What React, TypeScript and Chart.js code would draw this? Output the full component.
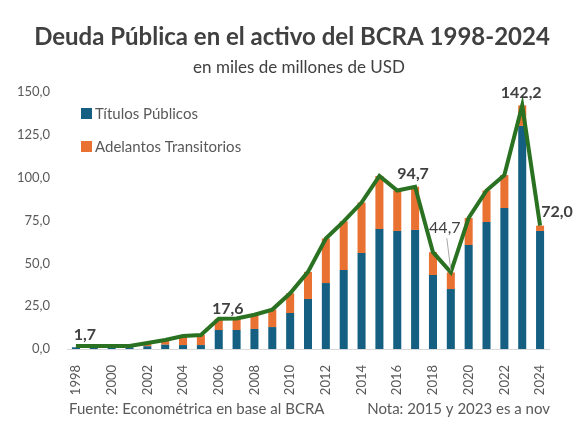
import { useEffect, useRef } from "react";
import { Chart, registerables } from "chart.js";

Chart.register(...registerables);

// data (miles de millones de USD)
const years = [
  "1998", "1999", "2000", "2001", "2002", "2003", "2004", "2005", "2006",
  "2007", "2008", "2009", "2010", "2011", "2012", "2013", "2014", "2015",
  "2016", "2017", "2018", "2019", "2020", "2021", "2022", "2023", "2024",
];
const titulos = [
  1.0, 1.0, 1.0, 1.0, 1.6, 2.5, 2.3, 2.3, 11.1, 11.1, 11.7, 12.8, 21.0, 29.2,
  38.5, 46.1, 56.0, 70.0, 68.9, 69.5, 43.2, 35.0, 60.7, 74.1, 82.3, 130.2, 68.9,
];
const adelantos = [
  0, 0, 0, 0, 1.9, 2.8, 5.3, 5.9, 6.5, 6.7, 8.3, 10.2, 11.5, 15.8, 26.0, 28.4,
  29.5, 31.0, 23.6, 25.2, 13.3, 9.7, 15.8, 18.4, 19.2, 12.0, 3.1,
];
const total = [
  1.7, 1.7, 1.7, 1.7, 3.5, 5.3, 7.6, 8.2, 17.6, 17.8, 20.0, 23.0, 32.5, 45.0,
  64.5, 74.5, 85.5, 101.0, 92.5, 94.7, 56.5, 44.7, 76.5, 92.5, 101.5, 142.2, 72.0,
];
const labeledYears = ["1998", "2006", "2017", "2019", "2023", "2024"];
const yTicks = [0, 25, 50, 75, 100, 125, 150];

const TITLE = "Deuda Pública en el activo del BCRA 1998-2024";
const SUBTITLE = "en miles de millones de USD";
const SOURCE = "Fuente: Econométrica en base al BCRA";
const NOTE = "Nota: 2015 y 2023 es a nov";

const FONT = "Lato, 'Noto Sans', sans-serif";
const BLUE = "#156082";
const ORANGE = "#E97132";
const GREEN = "#2A7221";
const DARK = "#404040";
const GREY = "#595959";

const fmt = (v: number) => v.toFixed(1).replace(".", ",");

// where each point label sits relative to its point
const labelOffsets: Record<string, { dx: number; dy: number; bold: boolean; leader?: boolean }> = {
  "1998": { dx: 9, dy: -11, bold: true },
  "2006": { dx: 9, dy: -10, bold: true },
  "2017": { dx: -2, dy: -13, bold: true },
  "2019": { dx: -6, dy: -45, bold: false, leader: true },
  "2023": { dx: -1, dy: -13, bold: true },
  "2024": { dx: 17, dy: -14, bold: true },
};

const textPlugin = {
  id: "texts",
  afterDraw(chart: any) {
    const { ctx } = chart;
    ctx.save();
    ctx.textBaseline = "middle";
    ctx.fillStyle = DARK;
    ctx.textAlign = "center";
    ctx.font = `bold 24px ${FONT}`;
    ctx.fillText(TITLE, 292, 37);
    ctx.font = `17px ${FONT}`;
    ctx.fillText(SUBTITLE, 299, 68);

    ctx.fillStyle = GREY;
    ctx.font = `15px ${FONT}`;
    ctx.textAlign = "left";
    ctx.fillText(SOURCE, 69, 409);
    ctx.textAlign = "right";
    ctx.fillText(NOTE, 550, 409);

    // legend, stacked inside the plot
    const items = chart.data.datasets.filter((d: any) => d.type !== "line");
    ctx.textAlign = "left";
    ctx.font = `15px ${FONT}`;
    items.forEach((d: any, i: number) => {
      const y = 113 + i * 33;
      ctx.fillStyle = d.backgroundColor;
      ctx.fillRect(81, y - 5, 11, 11);
      ctx.fillStyle = GREY;
      ctx.fillText(d.label, 95, y + 1);
    });

    // point labels on the total line
    const lineIdx = chart.data.datasets.findIndex((d: any) => d.type === "line");
    const meta = chart.getDatasetMeta(lineIdx);
    ctx.textAlign = "center";
    labeledYears.forEach((yr) => {
      const i = years.indexOf(yr);
      const pt = meta.data[i];
      const o = labelOffsets[yr];
      const lx = pt.x + o.dx;
      const ly = pt.y + o.dy;
      if (o.leader) {
        ctx.strokeStyle = "#A6A6A6";
        ctx.lineWidth = 1;
        ctx.beginPath();
        ctx.moveTo(lx + 2, ly + 11);
        ctx.lineTo(pt.x, pt.y - 2);
        ctx.stroke();
      }
      ctx.fillStyle = DARK;
      ctx.font = `${o.bold ? "bold " : ""}16px ${FONT}`;
      ctx.fillText(fmt(total[i]), lx, ly);
    });
    ctx.restore();
  },
};

export default function App() {
  const canvasRef = useRef<HTMLCanvasElement | null>(null);

  useEffect(() => {
    document.body.style.margin = "0";
    const canvas = canvasRef.current;
    if (!canvas) return;
    const chart = new Chart(canvas, {
      type: "bar",
      data: {
        labels: years,
        datasets: [
          {
            type: "line",
            label: "Total",
            data: total,
            borderColor: GREEN,
            backgroundColor: GREEN,
            borderWidth: 4,
            pointRadius: 0,
            tension: 0,
            order: 0,
          } as any,
          {
            label: "Títulos Públicos",
            data: titulos,
            backgroundColor: BLUE,
            stack: "s",
            order: 1,
          },
          {
            label: "Adelantos Transitorios",
            data: adelantos,
            backgroundColor: ORANGE,
            stack: "s",
            order: 1,
          },
        ],
      },
      options: {
        responsive: true,
        maintainAspectRatio: false,
        animation: false,
        layout: { padding: { top: 92, right: 36, left: 0, bottom: 0 } },
        datasets: { bar: { categoryPercentage: 1, barPercentage: 0.45 } },
        plugins: {
          legend: { display: false },
          tooltip: { enabled: false },
          title: { display: false },
        },
        scales: {
          x: {
            stacked: true,
            grid: { display: false },
            border: { display: true, color: "#D9D9D9", width: 1 },
            ticks: {
              autoSkip: false,
              minRotation: 90,
              maxRotation: 90,
              padding: 8,
              color: GREY,
              font: { family: FONT, size: 13 },
              callback: (_v: any, i: number) => (i % 2 === 0 ? years[i] : ""),
            },
            afterFit: (s: any) => {
              s.height = 79;
            },
          },
          y: {
            stacked: true,
            min: 0,
            max: 150,
            grid: { display: false },
            border: { display: false },
            afterBuildTicks: (s: any) => {
              s.ticks = yTicks.map((v) => ({ value: v }));
            },
            ticks: {
              padding: 9,
              color: GREY,
              font: { family: FONT, size: 13 },
              callback: (v: any) => fmt(Number(v)),
            },
            afterFit: (s: any) => {
              s.width = 67;
            },
          },
        },
      },
      plugins: [textPlugin],
    });
    return () => chart.destroy();
  }, []);

  return (
    <div style={{ position: "relative", width: 585, height: 428 }}>
      <canvas ref={canvasRef} />
    </div>
  );
}
